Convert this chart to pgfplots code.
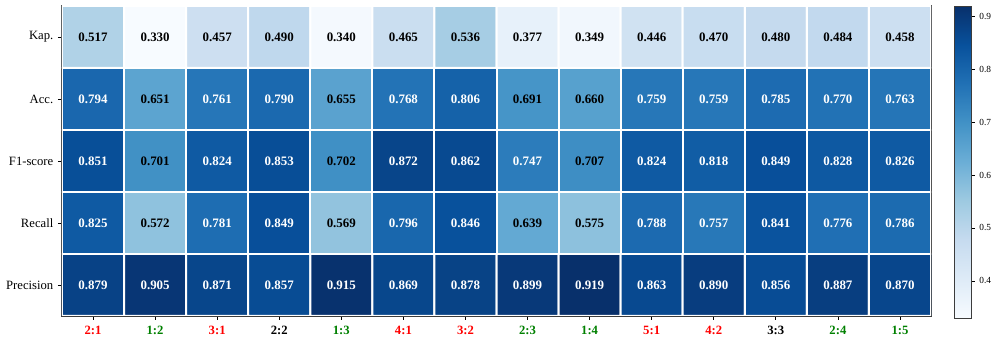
\documentclass[border=0pt]{standalone}
\usepackage{fontspec}
\setmainfont{Liberation Serif}
\usepackage{pgfplots}
\usepackage{pgfplotstable}
\pgfplotsset{compat=1.18}

\definecolor{tred}{RGB}{255,0,0}
\definecolor{tgreen}{RGB}{0,128,0}
\definecolor{axgray}{RGB}{60,60,60}

% rows: 0 Precision, 1 Recall, 2 F1-score, 3 Acc., 4 Kap.
\pgfplotstableread{
x y v
0 0 0.879
1 0 0.905
2 0 0.871
3 0 0.857
4 0 0.915
5 0 0.869
6 0 0.878
7 0 0.899
8 0 0.919
9 0 0.863
10 0 0.890
11 0 0.856
12 0 0.887
13 0 0.870
0 1 0.825
1 1 0.572
2 1 0.781
3 1 0.849
4 1 0.569
5 1 0.796
6 1 0.846
7 1 0.639
8 1 0.575
9 1 0.788
10 1 0.757
11 1 0.841
12 1 0.776
13 1 0.786
0 2 0.851
1 2 0.701
2 2 0.824
3 2 0.853
4 2 0.702
5 2 0.872
6 2 0.862
7 2 0.747
8 2 0.707
9 2 0.824
10 2 0.818
11 2 0.849
12 2 0.828
13 2 0.826
0 3 0.794
1 3 0.651
2 3 0.761
3 3 0.790
4 3 0.655
5 3 0.768
6 3 0.806
7 3 0.691
8 3 0.660
9 3 0.759
10 3 0.759
11 3 0.785
12 3 0.770
13 3 0.763
0 4 0.517
1 4 0.330
2 4 0.457
3 4 0.490
4 4 0.340
5 4 0.465
6 4 0.536
7 4 0.377
8 4 0.349
9 4 0.446
10 4 0.470
11 4 0.480
12 4 0.484
13 4 0.458
}\scores

\begin{document}
\begin{tikzpicture}
\begin{axis}[
    name=hm,
    scale only axis,
    width=651.75pt, height=232.5pt,
    xmin=-0.5, xmax=13.5, ymin=-0.5, ymax=4.5,
    enlargelimits=false,
    axis line style={axgray, line width=0.9pt},
    tick style={black, line width=0.5pt},
    tick align=outside, major tick length=3pt,
    xtick pos=bottom, ytick pos=left,
    xtick={0,...,13}, ytick={0,...,4},
    yticklabels={Precision,Recall,F1-score,Acc.,Kap.},
    xticklabels={
      \textcolor{tred}{\textbf{2:1}}, \textcolor{tgreen}{\textbf{1:2}},
      \textcolor{tred}{\textbf{3:1}}, \textbf{2:2},
      \textcolor{tgreen}{\textbf{1:3}}, \textcolor{tred}{\textbf{4:1}},
      \textcolor{tred}{\textbf{3:2}}, \textcolor{tgreen}{\textbf{2:3}},
      \textcolor{tgreen}{\textbf{1:4}}, \textcolor{tred}{\textbf{5:1}},
      \textcolor{tred}{\textbf{4:2}}, \textbf{3:3},
      \textcolor{tgreen}{\textbf{2:4}}, \textcolor{tgreen}{\textbf{1:5}}},
    ticklabel style={font=\fontsize{9.5}{11}\selectfont},
    xticklabel style={yshift=-1pt},
    colormap={blues}{rgb255=(247,251,255) rgb255=(222,235,247) rgb255=(198,219,239)
      rgb255=(158,202,225) rgb255=(107,174,214) rgb255=(66,146,198)
      rgb255=(33,113,181) rgb255=(8,81,156) rgb255=(8,48,107)},
    point meta min=0.33, point meta max=0.919,
    colorbar right,
    colorbar style={
      at={(parent axis.north east)}, anchor=north west, xshift=9pt,
      width=12.75pt, height=234pt,
      axis line style={axgray, line width=0.7pt},
      ytick pos=right,
      ytick={0.4,0.5,0.6,0.7,0.8,0.9},
      yticklabels={0.4,0.5,0.6,0.7,0.8,0.9},
      tick align=outside, major tick length=2.5pt,
      yticklabel style={font=\fontsize{7}{8}\selectfont},
    },
]
\addplot[matrix plot*, mesh/cols=14, point meta=explicit,
  draw=white, line width=1.5pt] table[x=x, y=y, meta=v] {\scores};
\addplot[only marks, mark=none, point meta=explicit,
  nodes near coords={\pgfmathfloattofixed{\pgfplotspointmeta}\let\vfix\pgfmathresult
    \ifdim\vfix pt>0.72pt\color{white}\fi
    \textbf{\pgfmathprintnumber[fixed,fixed zerofill,precision=3,assume math mode=true]{\pgfplotspointmeta}}},
  every node near coord/.append style={anchor=center,
    font=\fontsize{9.7}{11}\selectfont}]
  table[x=x, y=y, meta=v] {\scores};
\end{axis}
\path (hm.south west) ++(-46.5pt,-19.5pt) coordinate (bbA);
\path (hm.north east) ++(48.75pt,4.5pt) coordinate (bbB);
\pgfresetboundingbox
\useasboundingbox (bbA) rectangle (bbB);
\end{tikzpicture}
\end{document}
